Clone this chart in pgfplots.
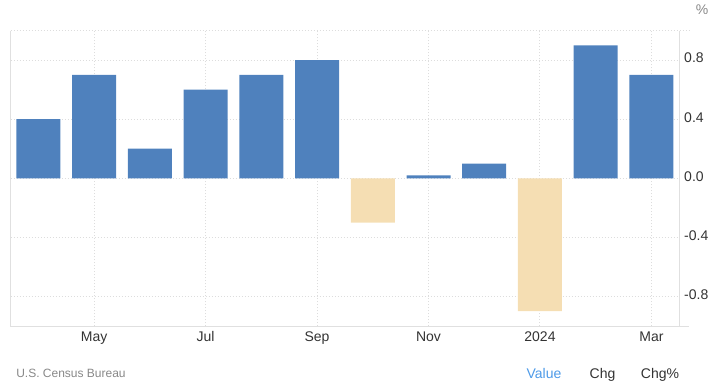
\documentclass[border=0pt]{standalone}
\usepackage{pgfplots}
\pgfplotsset{compat=1.18}
\usepackage{fontspec}
\setmainfont{Liberation Sans}
\definecolor{barblue}{RGB}{79,129,189}
\definecolor{bartan}{RGB}{245,222,179}
\definecolor{gridc}{RGB}{221,221,221}
\definecolor{axc}{RGB}{224,224,224}
\definecolor{ticktxt}{RGB}{51,51,51}
\definecolor{srcgray}{RGB}{136,136,136}
\definecolor{linkblue}{RGB}{77,154,232}
\begin{document}
\begin{tikzpicture}
\path[use as bounding box] (0,0) rectangle (537.75pt,-290.25pt);
\coordinate (A) at (7.875pt,-244.5pt);
\begin{axis}[
  at={(A)}, anchor=south west,
  scale only axis, width=501.6pt, height=221.6pt,
  xmin=-0.5, xmax=11.5, ymin=-1, ymax=1,
  axis line style={draw=none},
  xtick={1,3,5,7,9,11},
  xticklabels={May,Jul,Sep,Nov,2024,Mar},
  ytick={-0.8,-0.4,0,0.4,0.8},
  yticklabels={-0.8,-0.4,0.0,0.4,0.8},
  yticklabel pos=right,
  major tick length=0pt,
  grid=major,
  major grid style={gridc, line width=0.75pt, dash pattern=on 0.75pt off 1.5pt},
  xticklabel style={font=\fontsize{10.5pt}{12pt}\selectfont, text=ticktxt, anchor=base, yshift=-11.6pt},
  yticklabel style={font=\fontsize{10.5pt}{12pt}\selectfont, text=ticktxt, anchor=west, inner sep=0pt, xshift=3.5pt, yshift=1.5pt},
  ybar, bar width=33pt, bar shift=0pt,
  clip=false,
]
\addplot[draw=none, fill=barblue] coordinates {
  (0,0.4) (1,0.7) (2,0.2) (3,0.6) (4,0.7) (5,0.8) (7,0.02) (8,0.1) (10,0.9) (11,0.7)
};
\addplot[draw=none, fill=bartan] coordinates {
  (6,-0.3) (9,-0.9)
};
\draw[axc, line width=0.75pt] (rel axis cs:0,1) -- (rel axis cs:0,0) -- (rel axis cs:1.015,0);
\draw[axc, line width=0.75pt] (rel axis cs:1,0) -- (rel axis cs:1,1);
\draw[gridc, line width=0.75pt, dash pattern=on 0.75pt off 1.5pt] (rel axis cs:0,1) -- (rel axis cs:1.015,1);
\end{axis}
\node[anchor=center, text=srcgray, font=\fontsize{10.5pt}{12pt}\selectfont, inner sep=0pt] at (526.5pt,-7.5pt) {\%};
\node[anchor=base west, text=srcgray, font=\fontsize{9pt}{11pt}\selectfont, inner sep=0pt] at (12pt,-283.1pt) {U.S. Census Bureau};
\node[anchor=base, text=linkblue, font=\fontsize{10.5pt}{12pt}\selectfont, inner sep=0pt] at (408pt,-283.5pt) {Value};
\node[anchor=base, text=ticktxt, font=\fontsize{10.5pt}{12pt}\selectfont, inner sep=0pt] at (451.9pt,-283.5pt) {Chg};
\node[anchor=base, text=ticktxt, font=\fontsize{10.5pt}{12pt}\selectfont, inner sep=0pt] at (495pt,-283.5pt) {Chg\%};
\end{tikzpicture}
\end{document}
